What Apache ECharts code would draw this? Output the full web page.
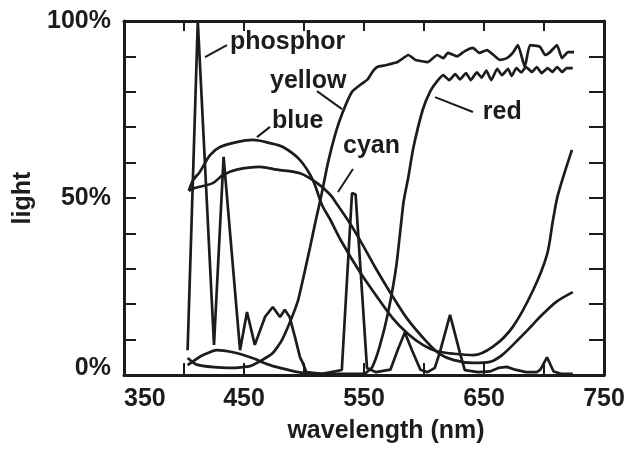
<!DOCTYPE html>
<html>
<head>
<meta charset="utf-8">
<title>light vs wavelength</title>
<script src="https://cdn.jsdelivr.net/npm/echarts@6/dist/echarts.min.js"></script>
<style>
  html, body { margin: 0; padding: 0; background: #fff; }
  #chart { width: 628px; height: 452px; }
</style>
</head>
<body>
<div id="chart"></div>
<script>
// wavelength (nm) / light (%) pairs
const phosphor = [
  [403, 7], [411.5, 100], [425, 8.5], [433, 61.6], [446.7, 7], [452.5, 17.8], [459, 8.5],
  [467.5, 16.4], [474, 19.2], [480, 16.4], [484, 18.4], [488, 16.4], [492.5, 10.7],
  [496.7, 5], [499, 3.4], [502, 0.8], [515, 0.3], [531.5, 1.4], [540, 51.4], [543, 51],
  [552.5, 2], [560, 0.8], [572, 1.5], [578, 7], [584, 12], [590, 7], [597, 1.5], [603, 0.8],
  [609, 2], [613, 6.2], [621.7, 17], [630, 6.2], [634, 1.4], [645, 0.8], [655, 1], [662, 2],
  [669, 2.3], [676, 1.5], [685, 0.8], [694, 0.8], [697, 1.5], [702.5, 5], [708, 1],
  [715, 0.3], [724, 0.3]
]
const blue = [
  [404, 52], [407.5, 55], [413, 57.3], [421.7, 62.1], [430, 64.4], [444, 65.8], [457.5, 66.4],
  [471.7, 65.5], [482.5, 64.4], [496.7, 60.7], [507.5, 55], [515, 48], [521.7, 44],
  [530.8, 38], [546.7, 29], [560, 22.5], [574, 16], [587, 11.5], [599, 8.5], [610, 6.8],
  [625, 6], [641, 5.6], [657.5, 8], [674, 13.6], [691, 24], [702.5, 34], [707.5, 43.8],
  [711.7, 51], [723.3, 63.6]
]
const cyan = [
  [404, 52], [409, 52.8], [424, 54.2], [432.5, 56.5], [444, 58], [463, 58.8], [477.5, 58],
  [496.7, 57], [511, 54.2], [521.7, 51], [528, 48], [538, 43], [549, 36.7], [560, 30],
  [571.7, 23.4], [585.8, 16], [602.5, 9.3], [613, 6], [625, 4.2], [641, 3.4], [655, 3.7],
  [665, 5.6], [680, 10.5], [690, 14], [697, 16.5], [710, 20.6], [724, 23.4]
]
const yellow = [
  [403, 4.8], [410, 3], [425, 2.2], [440, 2], [455, 2.5], [465, 4.2], [474, 6.2], [481, 9.5],
  [488, 14.7], [495, 21], [499, 26.8], [505, 36], [510, 44], [514, 50], [520, 60], [526, 68],
  [532, 74], [540, 80], [547, 82], [553, 83.5], [557, 85.6], [561, 87], [568, 87.5],
  [578, 88.4], [587, 90.4], [593, 89], [603, 88.4], [611, 90.4], [616, 89.5], [620, 91],
  [627.5, 90], [634, 91.5], [640.8, 92.4], [646, 91], [652.5, 91.8], [658, 90.4],
  [663.3, 89], [669, 89.5], [674, 91], [678.3, 93.2], [684, 87], [688.3, 93.2],
  [696.7, 92.7], [701, 90.4], [705, 91.2], [710.8, 93.2], [715, 89.5], [720, 91.2],
  [725, 91.2]
]
const red = [
  [403, 2.8], [415, 5.5], [427, 7], [440, 6.5], [457, 4.8], [470, 3], [480, 2], [495, 0.8],
  [510, 0.3], [550, 0.3], [553, 1], [557, 2.3], [563, 8], [570, 17.5], [577, 31], [583, 49],
  [587, 56], [591, 64], [599, 75], [605, 80], [611, 83], [616, 84.7], [621, 83.3], [626, 85],
  [630, 83.5], [635, 85.3], [639, 83.3], [644, 85.5], [648, 84], [652, 86], [656, 83.3],
  [661, 86.5], [665, 84.7], [670, 86.5], [673, 84.5], [677, 86.7], [681, 85.5], [685, 87],
  [690, 85.6], [694, 87], [698, 85.3], [703, 86.7], [707, 85.6], [711, 87], [715, 85.6],
  [719, 86.7], [724, 86.7]
]

// curve names written on the plot, anchored at their left edge
const noteNames = ['phosphor', 'yellow', 'blue', 'cyan', 'red']
const notePos = [[438.3, 94.1], [471.7, 83], [473.3, 71.8], [532.5, 64.7], [649, 74.3]]
const leaders = [
  [[417.5, 89.8], [435.8, 93.2]],
  [[510.8, 80.2], [531.7, 75.1]],
  [[460.8, 67.2], [471.7, 70.1]],
  [[528.3, 51.7], [540.8, 58.2]],
  [[609.2, 78.5], [640.8, 74.3]]
]

const ink = '#1c1c1c'
const font = { fontFamily: 'Liberation Sans, Arial, sans-serif', fontWeight: 'bold', fontSize: 25, color: ink }

function curve(name, data, smooth) {
  return {
    name: name,
    type: 'line',
    data: data,
    showSymbol: false,
    smooth: smooth,
    lineStyle: { color: ink, width: 2.7 },
    z: 3
  }
}

// frame side: ticks point into the plot, no axis is pulled onto value 0
function frameX(pos, tickLen) {
  return {
    type: 'value',
    position: pos,
    min: 350,
    max: 750,
    interval: 50,
    axisLine: { onZero: false, lineStyle: { color: ink, width: 3 } },
    axisTick: { inside: true, length: tickLen, lineStyle: { color: ink, width: 2 } },
    axisLabel: { show: false },
    splitLine: { show: false }
  }
}
function frameY(pos, tickLen) {
  return {
    type: 'value',
    position: pos,
    min: 0,
    max: 100,
    interval: 10,
    axisLine: { show: true, onZero: false, lineStyle: { color: ink, width: 3 } },
    axisTick: { show: true, inside: true, length: tickLen, lineStyle: { color: ink, width: 2 } },
    axisLabel: { show: false },
    splitLine: { show: false }
  }
}

const xBottom = Object.assign(frameX('bottom', 12), {
  name: 'wavelength (nm)',
  nameLocation: 'middle',
  nameGap: 44,
  nameTextStyle: Object.assign({}, font, { padding: [0, 0, 0, 44] }),
  axisLabel: Object.assign({}, font, {
    margin: 12,
    alignMinLabel: 'left',
    formatter: v => (v % 100 === 50 ? String(v) : '')
  })
})
const yLeft = Object.assign(frameY('left', 12), {
  name: 'light',
  nameLocation: 'middle',
  nameRotate: 90,
  nameGap: 88,
  nameTextStyle: font,
  axisLabel: Object.assign({}, font, {
    margin: 13,
    lineHeight: 14,
    verticalAlignMinLabel: 'bottom',
    formatter: v => (v % 50 === 0 ? v + '%' : '')
  })
})

const chart = echarts.init(document.getElementById('chart'))
chart.setOption({
  animation: false,
  backgroundColor: '#fff',
  grid: { left: 124, right: 24, top: 21, bottom: 77, outerBoundsMode: 'none' },
  xAxis: [xBottom, frameX('top', 10)],
  yAxis: [yLeft, frameY('right', 15)],
  series: [
    curve('phosphor', phosphor, false),
    curve('blue', blue, 0.3),
    curve('cyan', cyan, 0.3),
    curve('yellow', yellow, 0.15),
    curve('red', red, 0.15),
    {
      name: 'notes',
      type: 'scatter',
      symbolSize: 0,
      itemStyle: { color: ink, opacity: 1 },
      data: notePos.map((p, i) => [p[0], p[1], noteNames[i]]),
      label: Object.assign({}, font, {
        show: true,
        opacity: 1,
        position: 'right',
        distance: 0,
        formatter: p => p.value[2]
      }),
      silent: true,
      z: 4
    },
    {
      name: 'leaders',
      type: 'lines',
      coordinateSystem: 'cartesian2d',
      data: leaders.map(c => ({ coords: c })),
      lineStyle: { color: ink, width: 2, opacity: 1 },
      silent: true,
      z: 4
    }
  ]
})
</script>
</body>
</html>
